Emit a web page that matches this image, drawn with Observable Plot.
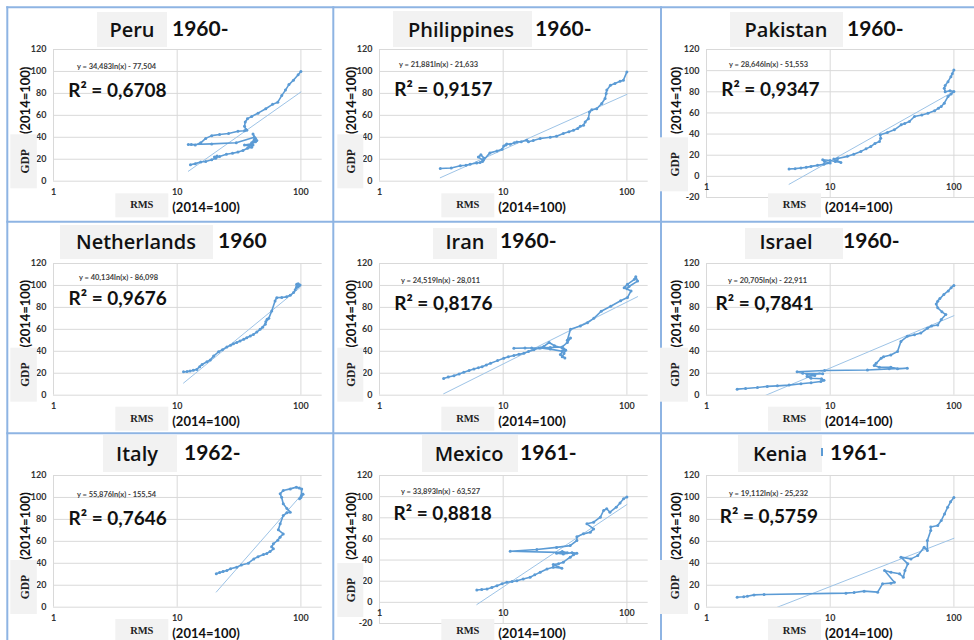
<!DOCTYPE html>
<html><head><meta charset="utf-8">
<script src="https://cdn.jsdelivr.net/npm/d3@7"></script>
<script src="https://cdn.jsdelivr.net/npm/@observablehq/plot@0.6"></script>
<style>
html,body{margin:0;padding:0;background:#fff;}
#page{position:relative;width:974px;height:640px;overflow:hidden;background:#fff;}
.pw{position:absolute;}
.pw svg{max-width:none !important;display:block;}
</style></head><body><div id="page"></div>
<script>
// ---------- data ----------
const countries = ["Peru","Philippines","Pakistan","Netherlands","Iran","Israel","Italy","Mexico","Kenia"];
const startYears = ["1960-","1960-","1960-","1960","1960-","1960-","1962-","1961-","1961-"];
const slopes = [34.483, 21.881, 28.646, 40.134, 24.519, 20.705, 55.876, 33.893, 19.112];
const intercepts = [-77.504, -21.633, -51.553, -86.098, -28.011, -22.911, -155.54, -63.527, -25.232];
const rSquared = ["0,6708","0,9157","0,9347","0,9676","0,8176","0,7841","0,7646","0,8818","0,5759"];
const yMins = [0,0,-20,0,0,0,0,-20,0];
const xTicks = [1,10,100];
const xLabel = "RMS";
const yLabel = "GDP";
const unitLabel = "(2014=100)";

const peruRMS = [12.8,14,15.5,17,19,20.5,21,20,20.5,22,25,28,31,34,37,40,41,38,35,40,43,44,42,40,42,43,41,42,30,19,13,12.3,14,15.5,17,19,22,26,31,35,36.5,36,35,35.5,37,40,45,52,59,65,70,75,80,87,95,100];
const peruGDP = [15,16,17.5,18,19.5,21,23,22,21.5,22.5,24.5,25.5,26.5,28,30,31,33,32,33,34,36,37,38,35,37,39,43,40,35,34,33.5,33.5,33,35,39,41.5,42.5,43.5,45.5,46,46.5,47,50,54,57,59,62,66,70,72,78,83,88,92,97,100];

const phlRMS = [3.1,3.8,4.5,5.0,5.4,6.1,6.5,6.9,6.3,6.6,7.0,6.8,7.8,8.9,9.8,10.1,10.5,10.7,11.4,12.3,12.9,14.0,15.5,16,17.5,19.9,24,27,30.6,34,37,40,42,44.6,46,48.8,49.8,52,57,62.6,66.6,68,68.8,73.6,80,88,93.6,100];
const phlGDP = [11.5,12,14,14.5,15.5,16.5,17,19,22,24,21,18,25.8,27.6,29,32,33,34,33.7,35,35.8,36,37.4,36,37,38.9,40,41,43.4,45,46.5,48,50,51,54,57,63,65,66,70.8,75.3,80,83,87.5,89,91,92,99.6];

const pakRMS = [4.65,5.2,5.8,6.4,7.0,7.9,8.9,10,9,8.7,10,11,12.2,10.7,11.5,13.8,15.5,17.7,19.5,21.3,23,25,25.6,25.4,29,33,37.5,40,43.7,48,55,61.7,69.8,75,78.9,83.6,89.6,95,100,93,85,83.6,85,89.6,94.6,97,100];
const pakGDP = [6.9,7.3,7.9,8.5,9.4,10.4,11.5,12.6,14,15.7,15,14,13.2,16.4,16.8,18.9,21,23.6,26,28.3,31,33,36,39.3,41.5,44,48.7,50,51.9,56.6,58,59.7,62,64.5,66,69.2,75.5,78,80.2,81,80,83.3,86,89.6,94.3,97,100.6];

const nldRMS = [11.25,12.0,12.7,13.5,14.4,15.2,15.9,17.4,18.5,19.7,21.6,23.2,25.2,27,28.5,30.3,32.2,34.5,36.5,39,41.3,44,46.8,49,51.5,53.3,52,55,58.1,61.8,63.8,70,76.6,82,87.2,90,92.5,95,98.4,95,92,94,97];
const nldGDP = [21.3,21.5,22,22.8,23.5,26,28,30.5,32,35.6,39.6,41.5,43.9,45.5,46.9,48,49.3,51,52.4,54,55.4,57.5,60,62,64.6,69.1,67,70,76.8,85.9,88.9,89,89.6,91,93.5,96,101,101.5,100.5,99,98,99,100];

const irnRMS = [3.3,3.6,4.0,4.4,4.8,5.3,5.8,6.3,6.75,7.3,7.9,9,10.1,11,12.2,13.4,14.7,16,17.7,19.5,21.3,23.5,26,30,32,31,30,31.5,29,31,30,24,20,15,12.2,17,24,30,33,35,33,35,42,48,54,62,74,89,101,108,95,101,115,118,122,104,100];
const irnGDP = [15.3,16.5,17.8,19.3,20.8,22.4,23.9,25,26,27.5,29,31.5,33.7,35,36.1,37.2,38.3,39.8,41.3,43,44.4,48,45,43,41,38,35,34,37,42,40,42,43,43,42.8,43,43.5,44,48,52,50,60,63,66,70,76.5,81,86,89,95,98,101,105.6,108,104,99,97];

const isrRMS = [1.77,2.07,2.58,3.1,3.74,4.65,5.8,7,8.4,8.9,8.5,7,6.5,7.5,6.5,8.7,6,5.4,9,20,30,42,35,30.9,25,22.7,23.5,25.8,27,30.9,35,37.3,42,48,54,61,66,74,79,86,80,74,72,74,77,83,90,95,100];
const isrGDP = [5.5,6.1,7,8,8.5,9.2,10.4,11.3,12.5,13.5,15,15.5,17,18,19,19.5,20,21.4,22.5,23,24,24.5,24,25.4,25.5,27,29,33.7,35,36.7,39.8,49,53.6,55,56.6,61,63,64,68.9,73.5,76,79.6,83,85.7,88,91.8,95,98,100];

const itaRMS = [20.7,22,23.5,25.2,27,30.3,33,37.6,41.6,45,49.8,53,56.3,59.9,58,59.9,65,67.8,72,65.7,68,72,77,82,77,72,69.8,68,72,82,92,97,101.5,101,97.5,104,100];
const itaGDP = [30.4,31.5,32.5,33.4,35,36.5,38.5,40.1,44,46,48,49,50.7,53.2,55,57.7,61,63.8,66.8,70.5,76,83.5,86,86.6,90,94.2,100.2,103.3,106.3,107.8,109.4,108.5,107.8,101.8,98.7,103,100];

const mexRMS = [6.12,6.7,7.4,8.1,8.9,9.8,10.7,11.8,12.9,14.5,16.5,18,19.9,22.6,25.4,29.8,25.4,28,30.6,34.8,37,39.4,36,30.6,27,30,33,11.4,18.7,27,34.8,39.4,39.4,44.5,50.6,53.8,47.5,53.8,61,64.8,68.7,72.9,82,88,94,100];
const mexGDP = [11.7,12.2,12.6,14,15.8,17.5,19,19.8,20.5,22,23.7,26,28.4,31.6,33.2,32.2,35.7,36.5,38,42.7,45,46.5,47,45.8,46.5,48,47,48.4,50,52,53.7,58.5,62,64.8,66.4,69.5,74.3,75.8,80.6,86.9,88.5,85.3,90,94,98,99.6];

const kenRMS = [1.77,2.0,2.14,2.42,2.92,13.4,15.6,18.8,24.2,26.5,31,33,27.5,31,36.4,39,40.2,42.4,37.3,45,51,57.5,61,61,65,65,74,79,84,89,94,100];
const kenGDP = [9.1,9.5,10,11.2,11.5,12.8,13.4,14.6,13.7,21.3,21.9,22.8,33.4,31.9,30.4,27.3,33.4,39.5,45.6,44,47,54.7,51.6,60.8,69.9,73,74.4,79,85,91,96,100];

const rmsSeries = [peruRMS, phlRMS, pakRMS, nldRMS, irnRMS, isrRMS, itaRMS, mexRMS, kenRMS];
const gdpSeries = [peruGDP, phlGDP, pakGDP, nldGDP, irnGDP, isrGDP, itaGDP, mexGDP, kenGDP];

// ---------- layout ----------
const colFx = [53.3, 379.3, 706];
const rowFy = [49.3, 262.7, 475];
const titleBox = [[97,167,12,47],[393,532,11,47],[730,843,12,47],[60,213,225,259],[433,497,228,259],[745,843,228,259],[103,177,435,472],[422,518,435,472],[738,822,435,472]];
const nameCx = [132,461,786,136,465,786,137,469,780];
const yearX = [172,535,847,218,500,843,184,520,830];
const titleBase = [36.5,36.5,36.5,248.5,248.5,248.5,461,461,461];
const eqDx = [63,59,62,65,61,61,63,61,62];
const eqDy = [14,12.5,12.5,11,14,14,16.5,13.5,15.5];
const r2Dx = [14.7,14.7,14.7,15,14.7,9,15,14,13.3];
const r2Base = [39.7,39,39,34.6,39,39,42.3,36.7,40];
const gdpBoxDx = [-43,-42,-46], gdpBoxW = [26.5,26,28];
const rotLabelDx = [-28.3,-27.6,-30];

const FW = 268.7, ML = 34, MT = 6, MB = 24;
const fmt = v => String(v).replace(".", ",");
const page = d3.select("#page");

rmsSeries.forEach((rms, i) => {
  const fx = colFx[i % 3], fy = rowFy[Math.floor(i / 3)];
  const ymin = yMins[i];
  const fh = ymin < 0 ? 148 : 131.7;
  const gdp = gdpSeries[i];
  const pts = rms.map((x, k) => ({x, y: gdp[k]}));
  const trend = d3.extent(rms).map(x => ({x, y: slopes[i] * Math.log(x) + intercepts[i]}));
  const yt = d3.range(ymin, 121, 20);
  const eq = `y = ${fmt(slopes[i])}ln(x) - ${fmt(-intercepts[i])}`;
  const r2 = `R² = ${rSquared[i]}`;
  const svg = Plot.plot({
    width: ML + FW, height: MT + fh + MB,
    marginLeft: ML, marginRight: 0, marginTop: MT, marginBottom: MB,
    style: {background: "transparent", fontFamily: "Lato", overflow: "visible"},
    x: {type: "log", domain: [1, 148.6], axis: null},
    y: {domain: [ymin, 120], axis: null},
    marks: [
      Plot.ruleY(yt, {stroke: "#d9d9d9", strokeWidth: 1}),
      Plot.ruleX(xTicks, {stroke: "#d9d9d9", strokeWidth: 1}),
      Plot.text(yt, {x: () => 1, y: d => d, dx: -7, text: d => String(d), textAnchor: "end", fontSize: 9, fontWeight: "bold", fill: "#333"}),
      Plot.text(xTicks, {x: d => d, y: () => 0, dy: 10.5, text: d => String(d), fontSize: 9, fontWeight: "bold", fill: "#333"}),
      Plot.line(trend, {x: "x", y: "y", stroke: "#9dc3e6", strokeWidth: 1, clip: true}),
      Plot.line(pts, {x: "x", y: "y", stroke: "#5b9bd5", strokeWidth: 1.6}),
      Plot.dot(pts, {x: "x", y: "y", r: 1.5, fill: "#5b9bd5", stroke: null}),
      Plot.text([eq], {frameAnchor: "top-left", text: d => d, dx: eqDx[i], dy: eqDy[i], textAnchor: "middle", fontSize: 7.5, fontWeight: "bold", fill: "#404040"}),
      Plot.text([r2], {frameAnchor: "top-left", text: d => d, dx: r2Dx[i], dy: r2Base[i] - 6.1, textAnchor: "start", fontSize: 19, fontWeight: "bold", fill: "#111"})
    ]
  });
  page.append("div").attr("class", "pw")
    .style("left", (fx - ML) + "px").style("top", (fy - MT) + "px")
    .node().appendChild(svg);
});

// ---------- overlay: frames, titles, axis titles ----------
const ov = page.append("svg").attr("width", 974).attr("height", 640)
  .style("position", "absolute").style("left", 0).style("top", 0).style("overflow", "hidden");
[7.3, 333.3, 661].forEach(x => ov.append("line").attr("x1", x).attr("x2", x).attr("y1", 6.3).attr("y2", 640)
  .attr("stroke", "#8eb4e3").attr("stroke-width", 2));
[7.3, 221.7, 433.3].forEach(y => ov.append("line").attr("x1", 6.3).attr("x2", 974).attr("y1", y).attr("y2", y)
  .attr("stroke", "#8eb4e3").attr("stroke-width", 2));

countries.forEach((name, i) => {
  const c = i % 3;
  const fx = colFx[c], fy = rowFy[Math.floor(i / 3)];
  const [bx0, bx1, by0, by1] = titleBox[i];
  ov.append("rect").attr("x", bx0).attr("y", by0).attr("width", bx1 - bx0).attr("height", by1 - by0).attr("fill", "#f2f2f2");
  ov.append("text").attr("x", nameCx[i]).attr("y", titleBase[i]).attr("text-anchor", "middle")
    .attr("font-family", "Open Sans").attr("font-weight", 600).attr("font-size", 20).attr("fill", "#111").text(name);
  ov.append("text").attr("x", yearX[i]).attr("y", titleBase[i] - 1).attr("text-anchor", "start")
    .attr("font-family", "Lato").attr("font-weight", 700).attr("font-size", 21).attr("fill", "#111").text(startYears[i]);
  // x axis title
  ov.append("rect").attr("x", fx + 62).attr("y", fy + 144).attr("width", 53).attr("height", 24).attr("fill", "#f2f2f2");
  ov.append("text").attr("x", fx + 88.5).attr("y", fy + 159).attr("text-anchor", "middle")
    .attr("font-family", "Liberation Serif").attr("font-weight", 700).attr("font-size", 10.5).attr("fill", "#222").text(xLabel);
  ov.append("text").attr("x", fx + 119).attr("y", fy + 163).attr("text-anchor", "start")
    .attr("font-family", "Lato").attr("font-weight", 700).attr("font-size", 13).attr("fill", "#111").text(unitLabel);
  // y axis title
  ov.append("text").attr("transform", `translate(${fx + rotLabelDx[c]},${fy + 51}) rotate(-90)`)
    .attr("text-anchor", "middle").attr("dy", "0.35em")
    .attr("font-family", "Lato").attr("font-weight", 700).attr("font-size", 13).attr("fill", "#111").text(unitLabel);
  const gy = fy + (yMins[i] < 0 ? 88 : 85);
  ov.append("rect").attr("x", fx + gdpBoxDx[c]).attr("y", gy).attr("width", gdpBoxW[c]).attr("height", 54).attr("fill", "#f2f2f2");
  ov.append("text").attr("transform", `translate(${fx + gdpBoxDx[c] + gdpBoxW[c] / 2 + 1},${gy + 27}) rotate(-90)`)
    .attr("text-anchor", "middle").attr("dy", "0.35em")
    .attr("font-family", "Liberation Serif").attr("font-weight", 700).attr("font-size", 11.5).attr("fill", "#222").text(yLabel);
});
// small blue mark beside the Kenia title
ov.append("rect").attr("x", 821).attr("y", 448).attr("width", 2).attr("height", 8).attr("fill", "#5b9bd5");
</script></body></html>
